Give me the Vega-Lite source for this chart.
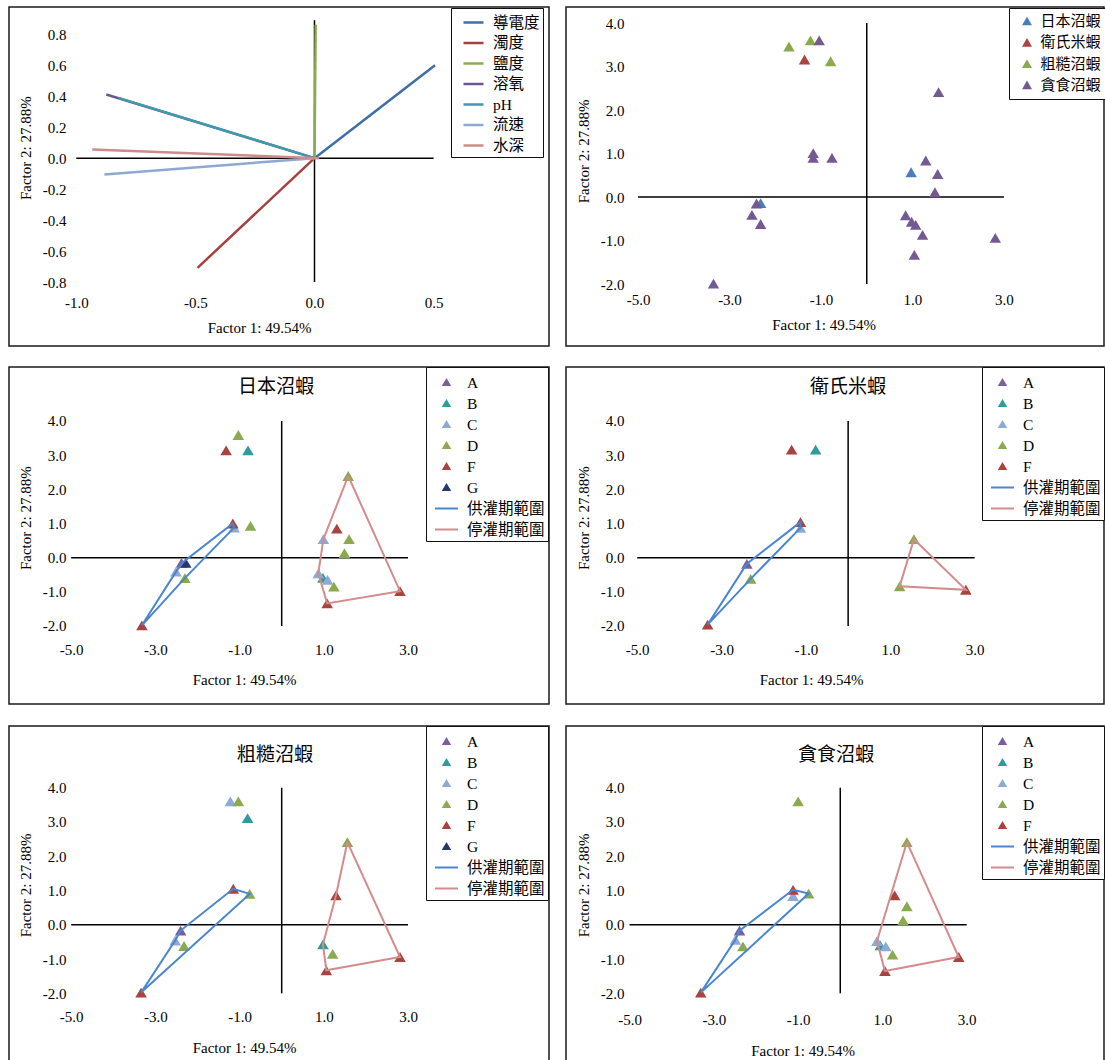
{
"$schema":"https://vega.github.io/schema/vega-lite/v6.json",
"padding":{"left":8,"top":6,"right":0,"bottom":0},
"background":"white",
"config":{
 "locale":{"number":{"decimal":".","thousands":",","grouping":[3],"currency":["$",""],"minus":"-"}},
 "view":{"stroke":"#1a1a1a","strokeWidth":1.5},
 "font":"Liberation Serif, Noto Sans CJK TC",
 "axis":{"grid":false,"domain":false,"ticks":false,"tickSize":0,"labelPadding":0,"labelFont":"Liberation Serif","labelFontSize":15,"labelColor":"#000","titleFont":"Liberation Serif","titleFontSize":15,"titleFontWeight":"normal","titleColor":"#000","labelFlush":false,"labelOverlap":false},
 "legend":{"labelFont":"Liberation Serif, Noto Sans CJK TC","labelFontSize":15.5,"labelColor":"#000","strokeColor":"#111","fillColor":"#fff","labelLimit":300},
 "title":{"font":"Noto Sans CJK TC","fontSize":19,"fontWeight":"normal","color":"#000","anchor":"middle","frame":"group"}
},
"datasets":{
 "tl_axes":[{"x":-1,"x2":0.5,"y":0,"y2":0},{"x":0,"x2":0,"y":-0.8,"y2":0.89}],
 "sc_axes":[{"x":-5,"x2":3,"y":0,"y2":0},{"x":0,"x2":0,"y":-2,"y2":4}],
 "tl_vec":[
  {"v":"導電度","x":0,"y":0,"x2":0.506,"y2":0.600},
  {"v":"濁度","x":0,"y":0,"x2":-0.491,"y2":-0.708},
  {"v":"鹽度","x":0,"y":0,"x2":0.005,"y2":0.862},
  {"v":"溶氧","x":0,"y":0,"x2":-0.874,"y2":0.411},
  {"v":"pH","x":0,"y":0,"x2":-0.823,"y2":0.389},
  {"v":"流速","x":0,"y":0,"x2":-0.882,"y2":-0.105},
  {"v":"水深","x":0.02,"y":0,"x2":-0.933,"y2":0.056}
 ],
 "tr_pts":[
  {"sp":"日本沼蝦","x":0.97,"y":0.57},{"sp":"日本沼蝦","x":-2.32,"y":-0.14},
  {"sp":"衛氏米蝦","x":-1.36,"y":3.16},
  {"sp":"粗糙沼蝦","x":-1.70,"y":3.46},{"sp":"粗糙沼蝦","x":-1.23,"y":3.60},{"sp":"粗糙沼蝦","x":-0.79,"y":3.12},
  {"sp":"貪食沼蝦","x":-1.04,"y":3.60},{"sp":"貪食沼蝦","x":-1.17,"y":1.01},{"sp":"貪食沼蝦","x":-1.17,"y":0.90},{"sp":"貪食沼蝦","x":-0.76,"y":0.90},
  {"sp":"貪食沼蝦","x":1.57,"y":2.41},{"sp":"貪食沼蝦","x":1.29,"y":0.84},{"sp":"貪食沼蝦","x":1.55,"y":0.53},{"sp":"貪食沼蝦","x":1.49,"y":0.11},
  {"sp":"貪食沼蝦","x":-2.41,"y":-0.15},{"sp":"貪食沼蝦","x":-2.51,"y":-0.41},{"sp":"貪食沼蝦","x":-2.32,"y":-0.62},
  {"sp":"貪食沼蝦","x":0.85,"y":-0.42},{"sp":"貪食沼蝦","x":0.98,"y":-0.57},{"sp":"貪食沼蝦","x":1.07,"y":-0.64},{"sp":"貪食沼蝦","x":1.22,"y":-0.87},
  {"sp":"貪食沼蝦","x":1.04,"y":-1.33},{"sp":"貪食沼蝦","x":2.81,"y":-0.94},{"sp":"貪食沼蝦","x":-3.35,"y":-1.99}
 ],
 "ml_pts":[
  {"g":"A","x":-2.38,"y":-0.15},
  {"g":"B","x":-0.80,"y":3.14},{"g":"B","x":0.98,"y":-0.59},
  {"g":"C","x":-1.13,"y":0.88},{"g":"C","x":-2.51,"y":-0.41},{"g":"C","x":0.99,"y":0.54},{"g":"C","x":0.87,"y":-0.46},{"g":"C","x":1.09,"y":-0.65},
  {"g":"D","x":-1.03,"y":3.59},{"g":"D","x":-0.74,"y":0.93},{"g":"D","x":-2.30,"y":-0.60},{"g":"D","x":1.58,"y":2.39},{"g":"D","x":1.60,"y":0.54},{"g":"D","x":1.49,"y":0.13},{"g":"D","x":1.24,"y":-0.85},
  {"g":"F","x":-1.32,"y":3.14},{"g":"F","x":-1.16,"y":1.00},{"g":"F","x":-3.32,"y":-1.98},{"g":"F","x":1.31,"y":0.85},{"g":"F","x":1.08,"y":-1.34},{"g":"F","x":2.81,"y":-0.98},
  {"g":"G","x":-2.28,"y":-0.15}
 ],
 "ml_hull":[
  {"g":"供灌期範圍","o":1,"x":-3.32,"y":-1.98},{"g":"供灌期範圍","o":2,"x":-2.51,"y":-0.41},{"g":"供灌期範圍","o":3,"x":-2.33,"y":-0.12},{"g":"供灌期範圍","o":4,"x":-1.16,"y":1.00},{"g":"供灌期範圍","o":5,"x":-1.13,"y":0.88},{"g":"供灌期範圍","o":6,"x":-2.30,"y":-0.60},{"g":"供灌期範圍","o":7,"x":-3.32,"y":-1.98},
  {"g":"停灌期範圍","o":1,"x":1.58,"y":2.39},{"g":"停灌期範圍","o":2,"x":2.81,"y":-0.98},{"g":"停灌期範圍","o":3,"x":1.08,"y":-1.34},{"g":"停灌期範圍","o":4,"x":0.87,"y":-0.46},{"g":"停灌期範圍","o":5,"x":0.99,"y":0.54},{"g":"停灌期範圍","o":6,"x":1.58,"y":2.39}
 ],
 "mr_pts":[
  {"g":"A","x":-2.40,"y":-0.18},
  {"g":"B","x":-0.77,"y":3.16},
  {"g":"C","x":-1.13,"y":0.87},
  {"g":"D","x":-2.31,"y":-0.62},{"g":"D","x":1.56,"y":0.54},{"g":"D","x":1.22,"y":-0.84},
  {"g":"F","x":-1.34,"y":3.16},{"g":"F","x":-1.13,"y":1.04},{"g":"F","x":-3.33,"y":-1.96},{"g":"F","x":2.79,"y":-0.94}
 ],
 "mr_hull":[
  {"g":"供灌期範圍","o":1,"x":-3.33,"y":-1.96},{"g":"供灌期範圍","o":2,"x":-2.40,"y":-0.18},{"g":"供灌期範圍","o":3,"x":-1.13,"y":1.04},{"g":"供灌期範圍","o":4,"x":-1.13,"y":0.87},{"g":"供灌期範圍","o":5,"x":-2.31,"y":-0.62},{"g":"供灌期範圍","o":6,"x":-3.33,"y":-1.96},
  {"g":"停灌期範圍","o":1,"x":1.56,"y":0.54},{"g":"停灌期範圍","o":2,"x":2.79,"y":-0.94},{"g":"停灌期範圍","o":3,"x":1.22,"y":-0.84},{"g":"停灌期範圍","o":4,"x":1.56,"y":0.54}
 ],
 "bl_pts":[
  {"g":"A","x":-2.40,"y":-0.17},
  {"g":"B","x":-0.81,"y":3.11},{"g":"B","x":0.98,"y":-0.57},
  {"g":"C","x":-1.22,"y":3.60},{"g":"C","x":-2.53,"y":-0.46},
  {"g":"D","x":-1.03,"y":3.60},{"g":"D","x":-0.76,"y":0.90},{"g":"D","x":-2.32,"y":-0.62},{"g":"D","x":1.56,"y":2.41},{"g":"D","x":1.21,"y":-0.85},
  {"g":"F","x":-1.15,"y":1.05},{"g":"F","x":-3.34,"y":-1.98},{"g":"F","x":1.29,"y":0.86},{"g":"F","x":1.06,"y":-1.33},{"g":"F","x":2.81,"y":-0.94}
 ],
 "bl_hull":[
  {"g":"供灌期範圍","o":1,"x":-3.34,"y":-1.98},{"g":"供灌期範圍","o":2,"x":-2.53,"y":-0.46},{"g":"供灌期範圍","o":3,"x":-2.40,"y":-0.17},{"g":"供灌期範圍","o":4,"x":-1.15,"y":1.05},{"g":"供灌期範圍","o":5,"x":-0.76,"y":0.90},{"g":"供灌期範圍","o":6,"x":-3.34,"y":-1.98},
  {"g":"停灌期範圍","o":1,"x":1.56,"y":2.41},{"g":"停灌期範圍","o":2,"x":2.81,"y":-0.94},{"g":"停灌期範圍","o":3,"x":1.06,"y":-1.33},{"g":"停灌期範圍","o":4,"x":0.98,"y":-0.57},{"g":"停灌期範圍","o":5,"x":1.29,"y":0.86},{"g":"停灌期範圍","o":6,"x":1.56,"y":2.41}
 ],
 "br_pts":[
  {"g":"A","x":-2.39,"y":-0.17},
  {"g":"B","x":0.95,"y":-0.60},
  {"g":"C","x":-1.12,"y":0.84},{"g":"C","x":-2.49,"y":-0.44},{"g":"C","x":0.87,"y":-0.48},{"g":"C","x":1.08,"y":-0.63},
  {"g":"D","x":-1.00,"y":3.60},{"g":"D","x":-0.75,"y":0.91},{"g":"D","x":-2.31,"y":-0.63},{"g":"D","x":1.58,"y":2.41},{"g":"D","x":1.58,"y":0.54},{"g":"D","x":1.49,"y":0.13},{"g":"D","x":1.24,"y":-0.87},
  {"g":"F","x":-1.12,"y":1.02},{"g":"F","x":-3.31,"y":-1.98},{"g":"F","x":1.29,"y":0.86},{"g":"F","x":1.06,"y":-1.35},{"g":"F","x":2.81,"y":-0.94}
 ],
 "br_hull":[
  {"g":"供灌期範圍","o":1,"x":-3.31,"y":-1.98},{"g":"供灌期範圍","o":2,"x":-2.49,"y":-0.44},{"g":"供灌期範圍","o":3,"x":-2.39,"y":-0.17},{"g":"供灌期範圍","o":4,"x":-1.12,"y":1.02},{"g":"供灌期範圍","o":5,"x":-0.75,"y":0.91},{"g":"供灌期範圍","o":6,"x":-3.31,"y":-1.98},
  {"g":"停灌期範圍","o":1,"x":1.58,"y":2.41},{"g":"停灌期範圍","o":2,"x":2.81,"y":-0.94},{"g":"停灌期範圍","o":3,"x":1.06,"y":-1.35},{"g":"停灌期範圍","o":4,"x":0.87,"y":-0.48},{"g":"停灌期範圍","o":5,"x":1.58,"y":2.41}
 ]
},
"resolve":{"scale":{"fill":"independent","stroke":"independent","shape":"independent"}},
"spacing":18,
"vconcat":[
 {"hconcat":[
  {"width":540,"height":339,
   "encoding":{
    "x":{"field":"x","type":"quantitative","title":"Factor 1: 49.54%","scale":{"domain":[-1.2825,0.9845],"nice":false,"zero":false},"axis":{"values":[-1,-0.5,0,0.5],"format":".1f","offset":-51,"titlePadding":10,"titleX":250}},
    "y":{"field":"y","type":"quantitative","title":"Factor 2: 27.88%","scale":{"domain":[-1.213,0.976],"nice":false,"zero":false},"axis":{"values":[-0.8,-0.6,-0.4,-0.2,0,0.2,0.4,0.6,0.8],"format":".1f","offset":-57,"titlePadding":9,"titleY":140.7}}
   },
   "layer":[
    {"data":{"name":"tl_axes"},"mark":{"type":"rule","color":"#000","strokeWidth":1.5},"encoding":{"x2":{"field":"x2"},"y2":{"field":"y2"}}},
    {"data":{"name":"tl_vec"},"mark":{"type":"rule","strokeWidth":2.5},"encoding":{"x2":{"field":"x2"},"y2":{"field":"y2"},
      "stroke":{"field":"v","type":"nominal","scale":{"domain":["導電度","濁度","鹽度","溶氧","pH","流速","水深"],"range":["#3F6EA6","#A5403D","#8BAB4F","#6E5493","#3F9AAE","#8EA8D2","#CD8B8B"]},
       "legend":{"orient":"none","legendX":442,"legendY":1,"title":null,"padding":3,"symbolOffset":8,"labelOffset":8,"rowPadding":0.5,"symbolSize":400,"symbolType":"stroke","symbolStrokeWidth":2.5}}}}
   ]},
  {"width":538,"height":339,
   "encoding":{
    "x":{"field":"x","type":"quantitative","title":"Factor 1: 49.54%","scale":{"domain":[-6.574,5.186],"nice":false,"zero":false},"axis":{"values":[-5,-3,-1,1,3],"format":".1f","offset":-54,"titlePadding":10,"titleX":257.5}},
    "y":{"field":"y","type":"quantitative","title":"Factor 2: 27.88%","scale":{"domain":[-3.425,4.368],"nice":false,"zero":false},"axis":{"values":[-2,-1,0,1,2,3,4],"format":".1f","offset":-58,"titlePadding":9,"titleY":144}}
   },
   "layer":[
    {"data":{"name":"sc_axes"},"mark":{"type":"rule","color":"#000","strokeWidth":1.5},"encoding":{"x2":{"field":"x2"},"y2":{"field":"y2"}}},
    {"data":{"name":"tr_pts"},"mark":{"type":"point","filled":true,"opacity":1,"shape":"triangle-up","size":130},"encoding":{
      "fill":{"field":"sp","type":"nominal","scale":{"domain":["日本沼蝦","衛氏米蝦","粗糙沼蝦","貪食沼蝦"],"range":["#4A7EBB","#A94442","#8AAA4E","#745A93"]},
       "legend":{"orient":"none","legendX":443,"legendY":1,"title":null,"padding":5.5,"symbolOffset":5,"labelOffset":6,"rowPadding":5.3,"symbolSize":100,"symbolType":"triangle-up","labelFontSize":15}}}}
   ]}
 ],"spacing":15,"resolve":{"scale":{"fill":"independent","stroke":"independent","shape":"independent"}}},
 {"vconcat":[
  {"hconcat":[
   {"width":540,"height":337,
    "title":{"text":"日本沼蝦","offset":-30,"dx":-3},
    "encoding":{
     "x":{"field":"x","type":"quantitative","title":"Factor 1: 49.54%","scale":{"domain":[-6.477,6.349],"nice":false,"zero":false},"axis":{"values":[-5,-3,-1,1,3],"format":".1f","offset":-62,"titlePadding":15,"titleX":235}},
     "y":{"field":"y","type":"quantitative","title":"Factor 2: 27.88%","scale":{"domain":[-4.283,5.58],"nice":false,"zero":false},"axis":{"values":[-2,-1,0,1,2,3,4],"format":".1f","offset":-57,"titlePadding":9,"titleY":150.7}}
    },
    "layer":[
     {"data":{"name":"sc_axes"},"mark":{"type":"rule","color":"#000","strokeWidth":1.5},"encoding":{"x2":{"field":"x2"},"y2":{"field":"y2"}}},
     {"data":{"name":"ml_pts"},"mark":{"type":"point","filled":true,"opacity":1,"size":1990},"encoding":{
       "fill":{"field":"g","type":"nominal","scale":{"domain":["A","B","C","D","F","G","供灌期範圍","停灌期範圍"],"range":["#7B5E9C","#2F9C9C","#8EA9D3","#8BAA4F","#A8433F","#26376F","#4A86CF","#D48B8C"]},
        "legend":{"orient":"none","legendX":417,"legendY":0,"title":null,"padding":3,"symbolOffset":5,"labelOffset":8,"rowPadding":-2,"symbolSize":529,"symbolStrokeWidth":2}},
       "shape":{"field":"g","type":"nominal","scale":{"domain":["A","B","C","D","F","G","供灌期範圍","停灌期範圍"],"range":["M0,-0.22L0.26,0.22L-0.26,0.22Z","M0,-0.22L0.26,0.22L-0.26,0.22Z","M0,-0.22L0.26,0.22L-0.26,0.22Z","M0,-0.22L0.26,0.22L-0.26,0.22Z","M0,-0.22L0.26,0.22L-0.26,0.22Z","M0,-0.22L0.26,0.22L-0.26,0.22Z","M-1,0H1","M-1,0H1"]},
        "legend":{"orient":"none","legendX":417,"legendY":0,"title":null,"padding":3,"symbolOffset":5,"labelOffset":8,"rowPadding":-2,"symbolSize":529,"symbolStrokeWidth":2}}}},
     {"data":{"name":"ml_hull"},"mark":{"type":"line","strokeWidth":2},"encoding":{"order":{"field":"o","type":"quantitative"},
       "stroke":{"field":"g","type":"nominal","scale":{"domain":["A","B","C","D","F","G","供灌期範圍","停灌期範圍"],"range":["#7B5E9C","#2F9C9C","#8EA9D3","#8BAA4F","#A8433F","#26376F","#4A86CF","#D48B8C"]},
        "legend":{"orient":"none","legendX":417,"legendY":0,"title":null,"padding":3,"symbolOffset":5,"labelOffset":8,"rowPadding":-2,"symbolSize":529,"symbolStrokeWidth":2}}}}
    ]},
   {"width":538,"height":337,
    "title":{"text":"衛氏米蝦","offset":-30,"dx":13},
    "encoding":{
     "x":{"field":"x","type":"quantitative","title":"Factor 1: 49.54%","scale":{"domain":[-6.688,6.065],"nice":false,"zero":false},"axis":{"values":[-5,-3,-1,1,3],"format":".1f","offset":-62,"titlePadding":15,"titleX":245}},
     "y":{"field":"y","type":"quantitative","title":"Factor 2: 27.88%","scale":{"domain":[-4.283,5.58],"nice":false,"zero":false},"axis":{"values":[-2,-1,0,1,2,3,4],"format":".1f","offset":-58,"titlePadding":9,"titleY":150.7}}
    },
    "layer":[
     {"data":{"name":"sc_axes"},"mark":{"type":"rule","color":"#000","strokeWidth":1.5},"encoding":{"x2":{"field":"x2"},"y2":{"field":"y2"}}},
     {"data":{"name":"mr_pts"},"mark":{"type":"point","filled":true,"opacity":1,"size":1990},"encoding":{
       "fill":{"field":"g","type":"nominal","scale":{"domain":["A","B","C","D","F","供灌期範圍","停灌期範圍"],"range":["#7B5E9C","#2F9C9C","#8EA9D3","#8BAA4F","#A8433F","#4A86CF","#D48B8C"]},
        "legend":{"orient":"none","legendX":416,"legendY":0,"title":null,"padding":3,"symbolOffset":5,"labelOffset":8,"rowPadding":-2,"symbolSize":529,"symbolStrokeWidth":2}},
       "shape":{"field":"g","type":"nominal","scale":{"domain":["A","B","C","D","F","供灌期範圍","停灌期範圍"],"range":["M0,-0.22L0.26,0.22L-0.26,0.22Z","M0,-0.22L0.26,0.22L-0.26,0.22Z","M0,-0.22L0.26,0.22L-0.26,0.22Z","M0,-0.22L0.26,0.22L-0.26,0.22Z","M0,-0.22L0.26,0.22L-0.26,0.22Z","M-1,0H1","M-1,0H1"]},
        "legend":{"orient":"none","legendX":416,"legendY":0,"title":null,"padding":3,"symbolOffset":5,"labelOffset":8,"rowPadding":-2,"symbolSize":529,"symbolStrokeWidth":2}}}},
     {"data":{"name":"mr_hull"},"mark":{"type":"line","strokeWidth":2},"encoding":{"order":{"field":"o","type":"quantitative"},
       "stroke":{"field":"g","type":"nominal","scale":{"domain":["A","B","C","D","F","供灌期範圍","停灌期範圍"],"range":["#7B5E9C","#2F9C9C","#8EA9D3","#8BAA4F","#A8433F","#4A86CF","#D48B8C"]},
        "legend":{"orient":"none","legendX":416,"legendY":0,"title":null,"padding":3,"symbolOffset":5,"labelOffset":8,"rowPadding":-2,"symbolSize":529,"symbolStrokeWidth":2}}}}
    ]}
  ],"spacing":15,"resolve":{"scale":{"fill":"independent","stroke":"independent","shape":"independent"}}},
  {"hconcat":[
   {"width":540,"height":337,
    "title":{"text":"粗糙沼蝦","offset":-39,"dx":-4},
    "encoding":{
     "x":{"field":"x","type":"quantitative","title":"Factor 1: 49.54%","scale":{"domain":[-6.477,6.349],"nice":false,"zero":false},"axis":{"values":[-5,-3,-1,1,3],"format":".1f","offset":-53.3,"titlePadding":16,"titleX":235}},
     "y":{"field":"y","type":"quantitative","title":"Factor 2: 27.88%","scale":{"domain":[-4.034,5.80],"nice":false,"zero":false},"axis":{"values":[-2,-1,0,1,2,3,4],"format":".1f","offset":-57,"titlePadding":9,"titleY":159}}
    },
    "layer":[
     {"data":{"name":"sc_axes"},"mark":{"type":"rule","color":"#000","strokeWidth":1.5},"encoding":{"x2":{"field":"x2"},"y2":{"field":"y2"}}},
     {"data":{"name":"bl_pts"},"mark":{"type":"point","filled":true,"opacity":1,"size":1990},"encoding":{
       "fill":{"field":"g","type":"nominal","scale":{"domain":["A","B","C","D","F","G","供灌期範圍","停灌期範圍"],"range":["#7B5E9C","#2F9C9C","#8EA9D3","#8BAA4F","#A8433F","#26376F","#4A86CF","#D48B8C"]},
        "legend":{"orient":"none","legendX":417,"legendY":0,"title":null,"padding":3,"symbolOffset":5,"labelOffset":8,"rowPadding":-2,"symbolSize":529,"symbolStrokeWidth":2}},
       "shape":{"field":"g","type":"nominal","scale":{"domain":["A","B","C","D","F","G","供灌期範圍","停灌期範圍"],"range":["M0,-0.22L0.26,0.22L-0.26,0.22Z","M0,-0.22L0.26,0.22L-0.26,0.22Z","M0,-0.22L0.26,0.22L-0.26,0.22Z","M0,-0.22L0.26,0.22L-0.26,0.22Z","M0,-0.22L0.26,0.22L-0.26,0.22Z","M0,-0.22L0.26,0.22L-0.26,0.22Z","M-1,0H1","M-1,0H1"]},
        "legend":{"orient":"none","legendX":417,"legendY":0,"title":null,"padding":3,"symbolOffset":5,"labelOffset":8,"rowPadding":-2,"symbolSize":529,"symbolStrokeWidth":2}}}},
     {"data":{"name":"bl_hull"},"mark":{"type":"line","strokeWidth":2},"encoding":{"order":{"field":"o","type":"quantitative"},
       "stroke":{"field":"g","type":"nominal","scale":{"domain":["A","B","C","D","F","G","供灌期範圍","停灌期範圍"],"range":["#7B5E9C","#2F9C9C","#8EA9D3","#8BAA4F","#A8433F","#26376F","#4A86CF","#D48B8C"]},
        "legend":{"orient":"none","legendX":417,"legendY":0,"title":null,"padding":3,"symbolOffset":5,"labelOffset":8,"rowPadding":-2,"symbolSize":529,"symbolStrokeWidth":2}}}}
    ]},
   {"width":538,"height":337,
    "title":{"text":"貪食沼蝦","offset":-39,"dx":1},
    "encoding":{
     "x":{"field":"x","type":"quantitative","title":"Factor 1: 49.54%","scale":{"domain":[-6.507,6.257],"nice":false,"zero":false},"axis":{"values":[-5,-3,-1,1,3],"format":".1f","offset":-51,"titlePadding":16,"titleX":236.6}},
     "y":{"field":"y","type":"quantitative","title":"Factor 2: 27.88%","scale":{"domain":[-4.034,5.80],"nice":false,"zero":false},"axis":{"values":[-2,-1,0,1,2,3,4],"format":".1f","offset":-58,"titlePadding":9,"titleY":159}}
    },
    "layer":[
     {"data":{"name":"sc_axes"},"mark":{"type":"rule","color":"#000","strokeWidth":1.5},"encoding":{"x2":{"field":"x2"},"y2":{"field":"y2"}}},
     {"data":{"name":"br_pts"},"mark":{"type":"point","filled":true,"opacity":1,"size":1990},"encoding":{
       "fill":{"field":"g","type":"nominal","scale":{"domain":["A","B","C","D","F","供灌期範圍","停灌期範圍"],"range":["#7B5E9C","#2F9C9C","#8EA9D3","#8BAA4F","#A8433F","#4A86CF","#D48B8C"]},
        "legend":{"orient":"none","legendX":416,"legendY":0,"title":null,"padding":3,"symbolOffset":5,"labelOffset":8,"rowPadding":-2,"symbolSize":529,"symbolStrokeWidth":2}},
       "shape":{"field":"g","type":"nominal","scale":{"domain":["A","B","C","D","F","供灌期範圍","停灌期範圍"],"range":["M0,-0.22L0.26,0.22L-0.26,0.22Z","M0,-0.22L0.26,0.22L-0.26,0.22Z","M0,-0.22L0.26,0.22L-0.26,0.22Z","M0,-0.22L0.26,0.22L-0.26,0.22Z","M0,-0.22L0.26,0.22L-0.26,0.22Z","M-1,0H1","M-1,0H1"]},
        "legend":{"orient":"none","legendX":416,"legendY":0,"title":null,"padding":3,"symbolOffset":5,"labelOffset":8,"rowPadding":-2,"symbolSize":529,"symbolStrokeWidth":2}}}},
     {"data":{"name":"br_hull"},"mark":{"type":"line","strokeWidth":2},"encoding":{"order":{"field":"o","type":"quantitative"},
       "stroke":{"field":"g","type":"nominal","scale":{"domain":["A","B","C","D","F","供灌期範圍","停灌期範圍"],"range":["#7B5E9C","#2F9C9C","#8EA9D3","#8BAA4F","#A8433F","#4A86CF","#D48B8C"]},
        "legend":{"orient":"none","legendX":416,"legendY":0,"title":null,"padding":3,"symbolOffset":5,"labelOffset":8,"rowPadding":-2,"symbolSize":529,"symbolStrokeWidth":2}}}}
    ]}
  ],"spacing":15,"resolve":{"scale":{"fill":"independent","stroke":"independent","shape":"independent"}}}
 ],"spacing":19,"resolve":{"scale":{"fill":"independent","stroke":"independent","shape":"independent"}}}
]
}
